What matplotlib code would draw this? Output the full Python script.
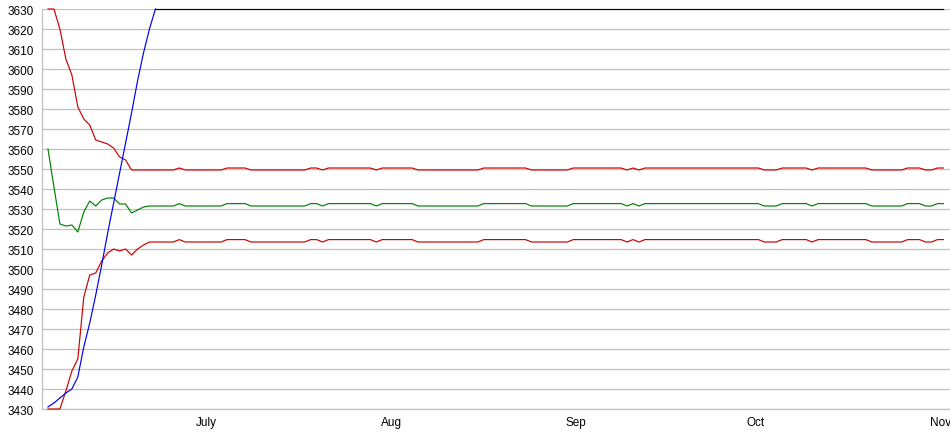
import pandas as pd
import matplotlib
matplotlib.use('Agg')
from matplotlib import pyplot as plt

# one point per day, starting early june
days = pd.date_range('2010-06-04 12:00', periods=151, freq='D')

# upper red band, comes down from the top and then sits around 3550
upper_red = [
    3630, 3630, 3620, 3605, 3597, 3581, 3575, 3572, 3564.5, 3563.5,
    3562.5, 3560.5, 3556, 3554.5, 3549.5, 3549.5, 3549.5, 3549.5, 3549.5, 3549.5,
    3549.5, 3549.5, 3550.5, 3549.5, 3549.5, 3549.5, 3549.5, 3549.5, 3549.5, 3549.5,
    3550.5, 3550.5, 3550.5, 3550.5, 3549.5, 3549.5, 3549.5, 3549.5, 3549.5, 3549.5,
    3549.5, 3549.5, 3549.5, 3549.5, 3550.5, 3550.5, 3549.5, 3550.5, 3550.5, 3550.5,
    3550.5, 3550.5, 3550.5, 3550.5, 3550.5, 3549.5, 3550.5, 3550.5, 3550.5, 3550.5,
    3550.5, 3550.5, 3549.5, 3549.5, 3549.5, 3549.5, 3549.5, 3549.5, 3549.5, 3549.5,
    3549.5, 3549.5, 3549.5, 3550.5, 3550.5, 3550.5, 3550.5, 3550.5, 3550.5, 3550.5,
    3550.5, 3549.5, 3549.5, 3549.5, 3549.5, 3549.5, 3549.5, 3549.5, 3550.5, 3550.5,
    3550.5, 3550.5, 3550.5, 3550.5, 3550.5, 3550.5, 3550.5, 3549.5, 3550.5, 3549.5,
    3550.5, 3550.5, 3550.5, 3550.5, 3550.5, 3550.5, 3550.5, 3550.5, 3550.5, 3550.5,
    3550.5, 3550.5, 3550.5, 3550.5, 3550.5, 3550.5, 3550.5, 3550.5, 3550.5, 3550.5,
    3549.5, 3549.5, 3549.5, 3550.5, 3550.5, 3550.5, 3550.5, 3550.5, 3549.5, 3550.5,
    3550.5, 3550.5, 3550.5, 3550.5, 3550.5, 3550.5, 3550.5, 3550.5, 3549.5, 3549.5,
    3549.5, 3549.5, 3549.5, 3549.5, 3550.5, 3550.5, 3550.5, 3549.5, 3549.5, 3550.5,
    3550.5,
]

# green middle line
green = [
    3560, 3541, 3522.5, 3521.5, 3522, 3518.5, 3528.5, 3534, 3531.5, 3534.5,
    3535.5, 3535.5, 3532.5, 3532.5, 3528, 3529.5, 3531, 3531.5, 3531.5, 3531.5,
    3531.5, 3531.5, 3532.7, 3531.5, 3531.5, 3531.5, 3531.5, 3531.5, 3531.5, 3531.5,
    3532.7, 3532.7, 3532.7, 3532.7, 3531.5, 3531.5, 3531.5, 3531.5, 3531.5, 3531.5,
    3531.5, 3531.5, 3531.5, 3531.5, 3532.7, 3532.7, 3531.5, 3532.7, 3532.7, 3532.7,
    3532.7, 3532.7, 3532.7, 3532.7, 3532.7, 3531.5, 3532.7, 3532.7, 3532.7, 3532.7,
    3532.7, 3532.7, 3531.5, 3531.5, 3531.5, 3531.5, 3531.5, 3531.5, 3531.5, 3531.5,
    3531.5, 3531.5, 3531.5, 3532.7, 3532.7, 3532.7, 3532.7, 3532.7, 3532.7, 3532.7,
    3532.7, 3531.5, 3531.5, 3531.5, 3531.5, 3531.5, 3531.5, 3531.5, 3532.7, 3532.7,
    3532.7, 3532.7, 3532.7, 3532.7, 3532.7, 3532.7, 3532.7, 3531.5, 3532.7, 3531.5,
    3532.7, 3532.7, 3532.7, 3532.7, 3532.7, 3532.7, 3532.7, 3532.7, 3532.7, 3532.7,
    3532.7, 3532.7, 3532.7, 3532.7, 3532.7, 3532.7, 3532.7, 3532.7, 3532.7, 3532.7,
    3531.5, 3531.5, 3531.5, 3532.7, 3532.7, 3532.7, 3532.7, 3532.7, 3531.5, 3532.7,
    3532.7, 3532.7, 3532.7, 3532.7, 3532.7, 3532.7, 3532.7, 3532.7, 3531.5, 3531.5,
    3531.5, 3531.5, 3531.5, 3531.5, 3532.7, 3532.7, 3532.7, 3531.5, 3531.5, 3532.7,
    3532.7,
]

# lower red band, climbs from the bottom and settles near 3514
lower_red = [
    3430, 3430, 3430, 3439, 3449, 3455, 3486, 3497, 3498, 3504,
    3508, 3510, 3509, 3510, 3507, 3510, 3512, 3513.5, 3513.5, 3513.5,
    3513.5, 3513.5, 3514.7, 3513.5, 3513.5, 3513.5, 3513.5, 3513.5, 3513.5, 3513.5,
    3514.7, 3514.7, 3514.7, 3514.7, 3513.5, 3513.5, 3513.5, 3513.5, 3513.5, 3513.5,
    3513.5, 3513.5, 3513.5, 3513.5, 3514.7, 3514.7, 3513.5, 3514.7, 3514.7, 3514.7,
    3514.7, 3514.7, 3514.7, 3514.7, 3514.7, 3513.5, 3514.7, 3514.7, 3514.7, 3514.7,
    3514.7, 3514.7, 3513.5, 3513.5, 3513.5, 3513.5, 3513.5, 3513.5, 3513.5, 3513.5,
    3513.5, 3513.5, 3513.5, 3514.7, 3514.7, 3514.7, 3514.7, 3514.7, 3514.7, 3514.7,
    3514.7, 3513.5, 3513.5, 3513.5, 3513.5, 3513.5, 3513.5, 3513.5, 3514.7, 3514.7,
    3514.7, 3514.7, 3514.7, 3514.7, 3514.7, 3514.7, 3514.7, 3513.5, 3514.7, 3513.5,
    3514.7, 3514.7, 3514.7, 3514.7, 3514.7, 3514.7, 3514.7, 3514.7, 3514.7, 3514.7,
    3514.7, 3514.7, 3514.7, 3514.7, 3514.7, 3514.7, 3514.7, 3514.7, 3514.7, 3514.7,
    3513.5, 3513.5, 3513.5, 3514.7, 3514.7, 3514.7, 3514.7, 3514.7, 3513.5, 3514.7,
    3514.7, 3514.7, 3514.7, 3514.7, 3514.7, 3514.7, 3514.7, 3514.7, 3513.5, 3513.5,
    3513.5, 3513.5, 3513.5, 3513.5, 3514.7, 3514.7, 3514.7, 3513.5, 3513.5, 3514.7,
    3514.7,
]

# blue shoots straight up then stays pinned at the top
blue = [
    3431, 3433, 3435.5, 3438, 3440, 3446, 3461, 3473, 3487, 3502,
    3518, 3533, 3548, 3563, 3578, 3594, 3608, 3620, 3630, 3630,
    3630, 3630, 3630, 3630, 3630, 3630, 3630, 3630, 3630, 3630,
    3630, 3630, 3630, 3630, 3630, 3630, 3630, 3630, 3630, 3630,
    3630, 3630, 3630, 3630, 3630, 3630, 3630, 3630, 3630, 3630,
    3630, 3630, 3630, 3630, 3630, 3630, 3630, 3630, 3630, 3630,
    3630, 3630, 3630, 3630, 3630, 3630, 3630, 3630, 3630, 3630,
    3630, 3630, 3630, 3630, 3630, 3630, 3630, 3630, 3630, 3630,
    3630, 3630, 3630, 3630, 3630, 3630, 3630, 3630, 3630, 3630,
    3630, 3630, 3630, 3630, 3630, 3630, 3630, 3630, 3630, 3630,
    3630, 3630, 3630, 3630, 3630, 3630, 3630, 3630, 3630, 3630,
    3630, 3630, 3630, 3630, 3630, 3630, 3630, 3630, 3630, 3630,
    3630, 3630, 3630, 3630, 3630, 3630, 3630, 3630, 3630, 3630,
    3630, 3630, 3630, 3630, 3630, 3630, 3630, 3630, 3630, 3630,
    3630, 3630, 3630, 3630, 3630, 3630, 3630, 3630, 3630, 3630,
    3630,
]

month_ticks = pd.to_datetime(['2010-07-01', '2010-08-01', '2010-09-01', '2010-10-01', '2010-11-01'])
month_labels = ['July', 'Aug', 'Sep', 'Oct', 'Nov']
y_ticks = list(range(3430, 3631, 10))

plt.rcParams['font.family'] = ['Liberation Sans', 'DejaVu Sans']

fig = plt.figure(figsize=(9.5, 4.35), dpi=100)
ax = fig.add_axes([42 / 950, 25 / 435, 908 / 950, 400 / 435])

lw = 0.85
ax.plot(days, green, color='#008000', lw=lw, clip_on=False, zorder=3)
ax.plot(days, upper_red, color='#cc0000', lw=lw, clip_on=False, zorder=3)
ax.plot(days, lower_red, color='#cc0000', lw=lw, clip_on=False, zorder=3)
# rising part in bright blue, the part stuck at the ceiling looks almost black
ax.plot(days[:19], blue[:19], color='#0000ee', lw=lw, clip_on=False, zorder=4)
ax.plot(days[18:], blue[18:], color='#000040', lw=lw, clip_on=False, zorder=5)

ax.set_xlim(days[0] - pd.Timedelta(days=1), days[0] + pd.Timedelta(days=151.1))
ax.set_ylim(3430, 3630)

ax.set_yticks(y_ticks)
ax.set_xticks(month_ticks)
ax.set_xticklabels(month_labels)
ax.yaxis.grid(True, color='#c0c0c0', lw=0.9)
ax.set_axisbelow(True)

ax.spines['right'].set_visible(False)
ax.spines['top'].set_visible(False)
for side in ['left', 'bottom']:
    ax.spines[side].set_color('#c0c0c0')
    ax.spines[side].set_linewidth(0.9)

ax.tick_params(axis='both', length=0, labelsize=8.5, colors='#000000')
ax.tick_params(axis='y', pad=6)
ax.tick_params(axis='x', pad=5)

fig.savefig('out.png', dpi=100)
